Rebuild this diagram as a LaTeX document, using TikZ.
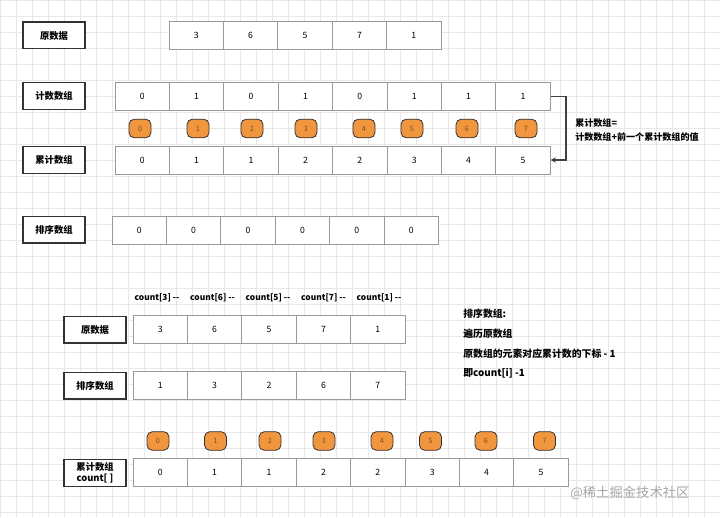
\documentclass[tikz,border=0pt]{standalone}
\usepackage{fontspec}
\setmainfont{Noto Sans CJK SC}
\usepackage{tikz}
\usepackage{xcolor}
\usetikzlibrary{arrows.meta}
\definecolor{idxorange}{RGB}{240,150,62}
\definecolor{idxtext}{RGB}{140,75,20}

\begin{document}
\begin{tikzpicture}[x=0.75pt,y=-0.75pt,
		lbl/.style={draw=black!80, line width=1pt, fill=white, minimum width=46.5pt, minimum height=20pt, inner sep=1pt, font=\fontsize{7}{8}\selectfont\bfseries, align=center},
		cell/.style={draw=black!40, line width=0.6pt, fill=white, minimum width=40.8pt, minimum height=21pt, font=\fontsize{6.5}{7}\selectfont},
		idx/.style={draw=black!80, line width=0.6pt, fill=idxorange, rounded corners=4pt, minimum width=16.5pt, minimum height=14pt, inner sep=0pt, text=idxtext, font=\fontsize{5.5}{6}\selectfont},
		note/.style={anchor=west, inner sep=0pt, font=\fontsize{7.4}{8}\selectfont\bfseries}]
		\useasboundingbox (0,0) rectangle (720,517);
		\fill[white] (0,0) rectangle (720,517);
		\foreach \gx in {0,16,...,720}
			\draw[black!9, line width=0.35pt] (\gx,0) -- (\gx,517);
		\foreach \gy in {0,16,...,517}
			\draw[black!9, line width=0.35pt] (0,\gy) -- (720,\gy);
		% counting sort, step one
		\node[lbl] (orig) at (54,35.5) {原数据};
		\foreach \v [count=\i] in {3,6,5,7,1}
			\node[cell] (a\i) at ({169+54.4*(\i-0.5)},35.5) {\v};
		\node[lbl] (cnt) at (54,96) {计数数组};
		\foreach \v [count=\i] in {0,1,0,1,0,1,1,1}
			\node[cell] (b\i) at ({115+54.4*(\i-0.5)},96.5) {\v};
		\foreach \x [count=\i from 0] in {140,198,252,306,364,412,467,526}
			\node[idx] (k\i) at (\x,128.5) {\i};
		\node[lbl] (acc) at (54,160) {累计数组};
		\foreach \v [count=\i] in {0,1,1,2,2,3,4,5}
			\node[cell] (c\i) at ({115+54.4*(\i-0.5)},160) {\v};
		\coordinate (turn) at (566,96.5);
		\draw[black!75, line width=0.8pt, -{Stealth[length=4pt,width=4pt]}] (b8.east) -- (turn) |- (c8.east);
		\node[note, font=\fontsize{6.8}{8}\selectfont\bfseries] (rule1) at (575,123) {累计数组=};
		\node[note, font=\fontsize{6.8}{8}\selectfont\bfseries] (rule2) at (575,137) {计数数组+前一个累计数组的值};
		\node[lbl] (sorted) at (54,229.5) {排序数组};
		\foreach \v [count=\i] in {0,0,0,0,0,0}
			\node[cell] (d\i) at ({112+54.4*(\i-0.5)},230) {\v};
		% step two
		\foreach \v [count=\i] in {3,6,5,7,1}
			\node[inner sep=0pt, font=\fontsize{6.3}{7}\selectfont\bfseries] (dec\i) at ({157+55.5*(\i-1)},298) {count[\v] -{}-};
		\node[lbl] (orig2) at (95,329.5) {原数据};
		\foreach \v [count=\i] in {3,6,5,7,1}
			\node[cell] (e\i) at ({133+54.4*(\i-0.5)},329.5) {\v};
		\node[lbl] (sorted2) at (95,385.5) {排序数组};
		\foreach \v [count=\i] in {1,3,2,6,7}
			\node[cell] (f\i) at ({133+54.4*(\i-0.5)},385.5) {\v};
		\node[note] (n1) at (463,314) {排序数组:};
		\node[note] (n2) at (463,334) {遍历原数组};
		\node[note] (n3) at (463,354) {原数组的元素对应累计数的下标 - 1};
		\node[note] (n4) at (463,373) {即count[i] -1};
		\foreach \x [count=\i from 0] in {158,215.5,270,324,382,430.5,486,544.5}
			\node[idx] (m\i) at (\x,441) {\i};
		\node[lbl, font=\fontsize{7}{8.5}\selectfont\bfseries] (acc2) at (95,473) {累计数组\\count[ ]};
		\foreach \v [count=\i] in {0,1,1,2,2,3,4,5}
			\node[cell] (g\i) at ({133+54.4*(\i-0.5)},472.5) {\v};
		\node[anchor=west, inner sep=0pt, text=black!35, font=\fontsize{10}{11}\selectfont] (mark) at (570,493) {@稀土掘金技术社区};
	\end{tikzpicture}
\end{document}
